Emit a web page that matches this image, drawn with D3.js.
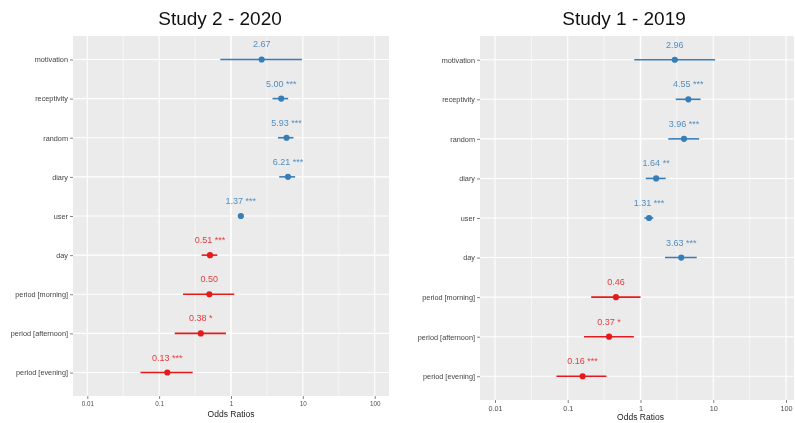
<!DOCTYPE html>
<html>
<head>
<meta charset="utf-8">
<script src="https://cdn.jsdelivr.net/npm/d3@7"></script>
<style>
  html, body { margin: 0; padding: 0; background: #fff; }
  svg { display: block; font-family: "Liberation Sans", Arial, Helvetica, sans-serif; will-change: transform; }
</style>
</head>
<body>
<svg id="chart" width="795" height="423"></svg>
<script>
// Term names, top to bottom
const terms = ["motivation", "receptivity", "random", "diary", "user", "day",
               "period [morning]", "period [afternoon]", "period [evening]"];

// Study 2 (2020): odds ratios, 95% CI, significance stars
const or2020   = [2.67, 5.00, 5.93, 6.21, 1.37, 0.51, 0.50, 0.38, 0.13];
const lo2020   = [0.71, 3.78, 4.50, 4.69, 1.27, 0.39, 0.215, 0.165, 0.055];
const hi2020   = [9.7, 6.25, 7.40, 7.80, 1.48, 0.645, 1.11, 0.85, 0.293];
const sig2020  = ["", "***", "***", "***", "***", "***", "", "*", "***"];

// Study 1 (2019)
const or2019   = [2.96, 4.55, 3.96, 1.64, 1.31, 3.63, 0.46, 0.37, 0.16];
const lo2019   = [0.82, 3.05, 2.41, 1.18, 1.13, 2.17, 0.21, 0.167, 0.07];
const hi2019   = [10.6, 6.7, 6.4, 2.22, 1.50, 5.93, 1.0, 0.81, 0.34];
const sig2019  = ["", "***", "***", "**", "***", "***", "", "*", "***"];

const xTicks = [0.01, 0.1, 1, 10, 100];
const xTickLabels = ["0.01", "0.1", "1", "10", "100"];

const BLUE = "#377eb8", RED = "#e41a1c";

const svg = d3.select("#chart");

function forestPanel(cfg) {
  const { title, titleX, px0, px1, py0, py1, tick0, tick1, or, lo, hi, sig,
          tickFont, tickLabelY, axisTitleY } = cfg;
  const g = svg.append("g");

  const x = d3.scaleLog().domain([0.01, 100]).range([tick0, tick1]);
  const y = d3.scalePoint().domain(terms).range([py0, py1]).padding(0.6);

  // panel background
  g.append("rect").attr("x", px0).attr("y", py0)
    .attr("width", px1 - px0).attr("height", py1 - py0).attr("fill", "#ebebeb");

  // minor vertical gridlines (half-decades)
  const minor = d3.range(xTicks.length - 1).map(i => Math.sqrt(xTicks[i] * xTicks[i + 1]));
  g.selectAll(".minor").data(minor).join("line")
    .attr("x1", d => x(d)).attr("x2", d => x(d))
    .attr("y1", py0).attr("y2", py1)
    .attr("stroke", "#fff").attr("stroke-width", 0.55);

  // major vertical gridlines
  g.selectAll(".majorx").data(xTicks).join("line")
    .attr("x1", d => x(d)).attr("x2", d => x(d))
    .attr("y1", py0).attr("y2", py1)
    .attr("stroke", "#fff").attr("stroke-width", d => d === 1 ? 1.6 : 1.1);

  // horizontal gridlines at each term
  g.selectAll(".majory").data(terms).join("line")
    .attr("x1", px0).attr("x2", px1)
    .attr("y1", d => y(d)).attr("y2", d => y(d))
    .attr("stroke", "#fff").attr("stroke-width", 1.1);

  // y axis
  const yAxis = g.append("g").attr("transform", `translate(${px0},0)`)
    .call(d3.axisLeft(y).tickSize(3).tickPadding(2));
  yAxis.select(".domain").remove();
  yAxis.selectAll("line").attr("stroke", "#333").attr("stroke-width", 0.6);
  yAxis.selectAll("text").attr("font-size", 7.3).attr("fill", "#444")
    .attr("font-family", "Liberation Sans, Arial, sans-serif");

  // x axis
  const xAxis = g.append("g").attr("transform", `translate(0,${py1})`)
    .call(d3.axisBottom(x).tickValues(xTicks)
      .tickFormat((d, i) => xTickLabels[i]).tickSize(3).tickPadding(tickLabelY));
  xAxis.select(".domain").remove();
  xAxis.selectAll("line").attr("stroke", "#333").attr("stroke-width", 0.6);
  xAxis.selectAll("text").attr("font-size", tickFont).attr("fill", "#4d4d4d")
    .attr("font-family", "Liberation Sans, Arial, sans-serif");

  const rows = terms.map((t, i) => ({ t, or: or[i], lo: lo[i], hi: hi[i], sig: sig[i] }));
  const col = d => d.or >= 1 ? BLUE : RED;

  // confidence intervals
  g.selectAll(".ci").data(rows).join("line")
    .attr("x1", d => x(d.lo)).attr("x2", d => x(d.hi))
    .attr("y1", d => y(d.t)).attr("y2", d => y(d.t))
    .attr("stroke", col).attr("stroke-width", 1.6);

  // point estimates
  g.selectAll(".pt").data(rows).join("circle")
    .attr("cx", d => x(d.or)).attr("cy", d => y(d.t)).attr("r", 3.1)
    .attr("fill", col);

  // value labels
  g.selectAll(".lab").data(rows).join("text")
    .attr("x", d => x(d.or)).attr("y", d => y(d.t) - 12)
    .attr("text-anchor", "middle").attr("font-size", 9)
    .attr("fill", col).attr("fill-opacity", 0.85)
    .text(d => d.or.toFixed(2) + (d.sig ? " " + d.sig : ""));

  // axis title
  g.append("text").attr("x", (tick0 + tick1) / 2).attr("y", axisTitleY)
    .attr("text-anchor", "middle").attr("font-size", 8.5).attr("fill", "#222")
    .text("Odds Ratios");

  // panel title
  g.append("text").attr("x", titleX).attr("y", 25)
    .attr("text-anchor", "middle").attr("font-size", 19).attr("fill", "#111")
    .text(title);
}

forestPanel({
  title: "Study 2 - 2020", titleX: 220,
  px0: 73, px1: 389, py0: 36, py1: 396, tick0: 87.3, tick1: 374.7,
  or: or2020, lo: lo2020, hi: hi2020, sig: sig2020,
  tickFont: 6.3, tickLabelY: 3, axisTitleY: 417
});

forestPanel({
  title: "Study 1 - 2019", titleX: 624,
  px0: 480, px1: 794, py0: 36, py1: 400, tick0: 495, tick1: 786,
  or: or2019, lo: lo2019, hi: hi2019, sig: sig2019,
  tickFont: 7.3, tickLabelY: 3, axisTitleY: 420
});
</script>
</body>
</html>
